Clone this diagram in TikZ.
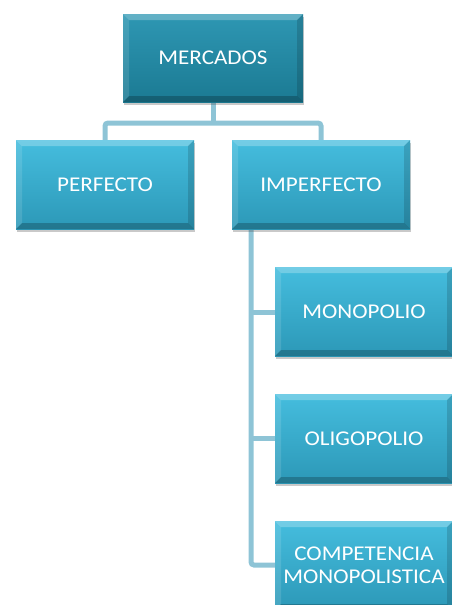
\documentclass[tikz,border=0pt]{standalone}
\usepackage{fontspec}
\setmainfont{Carlito}[FakeStretch=1.1]
\usetikzlibrary{shadows}
\definecolor{topA}{HTML}{2E97B3}
\definecolor{topB}{HTML}{1B7A93}
\definecolor{boxA}{HTML}{45BDDE}
\definecolor{boxB}{HTML}{2C98B7}
\definecolor{connC}{HTML}{8EC4D6}
\tikzset{
  bevel/.style={path picture={
    \fill[white,opacity=0.25] (path picture bounding box.north west) -- (path picture bounding box.north east) -- ([xshift=-6pt,yshift=-6pt]path picture bounding box.north east) -- ([xshift=6pt,yshift=-6pt]path picture bounding box.north west) -- cycle;
    \fill[white,opacity=0.12] (path picture bounding box.north west) -- ([xshift=6pt,yshift=-6pt]path picture bounding box.north west) -- ([xshift=6pt,yshift=6pt]path picture bounding box.south west) -- (path picture bounding box.south west) -- cycle;
    \fill[black,opacity=0.22] (path picture bounding box.south west) -- (path picture bounding box.south east) -- ([xshift=-6pt,yshift=6pt]path picture bounding box.south east) -- ([xshift=6pt,yshift=6pt]path picture bounding box.south west) -- cycle;
    \fill[black,opacity=0.14] (path picture bounding box.north east) -- ([xshift=-6pt,yshift=-6pt]path picture bounding box.north east) -- ([xshift=-6pt,yshift=6pt]path picture bounding box.south east) -- (path picture bounding box.south east) -- cycle;
  }},
  basebox/.style={rectangle, inner sep=0pt, text=white, align=center,
    font=\fontsize{21}{23.3}\selectfont, bevel,
    drop shadow={shadow xshift=1pt, shadow yshift=-3pt, opacity=0.3, fill=black!70}},
  topbox/.style={basebox, top color=topA, bottom color=topB, minimum width=180pt, minimum height=88pt},
  subbox/.style={basebox, top color=boxA, bottom color=boxB, minimum width=178pt, minimum height=89pt},
  conn/.style={draw=connC, line width=5pt, rounded corners=3pt}
}
\begin{document}
\begin{tikzpicture}[x=1pt,y=-1pt]
\useasboundingbox (0,0) rectangle (452,605);
% connectors first
\coordinate (bus) at (213,123);
\coordinate (trunk) at (251,229);
\coordinate (perfTop) at (105,140);
\coordinate (impTop) at (321,140);
\coordinate (mercBot) at (213,102);
\coordinate (monoW) at (276,312);
\coordinate (oligW) at (276,438);
\coordinate (compW) at (276,565);
\draw[conn] (mercBot) -- (bus);
\draw[conn] (perfTop) |- (bus) -| (impTop);
\draw[conn] (trunk) |- (compW);
\draw[conn] (trunk |- monoW) -- (monoW);
\draw[conn] (trunk |- oligW) -- (oligW);
% boxes
\node[topbox] (merc) at (213,58) {MERCADOS};
\node[subbox] (perf) at (105,184.5) {PERFECTO};
\node[subbox] (imp) at (321,184.5) {IMPERFECTO};
\node[subbox] (mono) at (364,311.5) {MONOPOLIO};
\node[subbox] (olig) at (364,438.5) {OLIGOPOLIO};
\node[subbox] (comp) at (364,565.5) {COMPETENCIA\\MONOPOLISTICA};
\end{tikzpicture}
\end{document}
